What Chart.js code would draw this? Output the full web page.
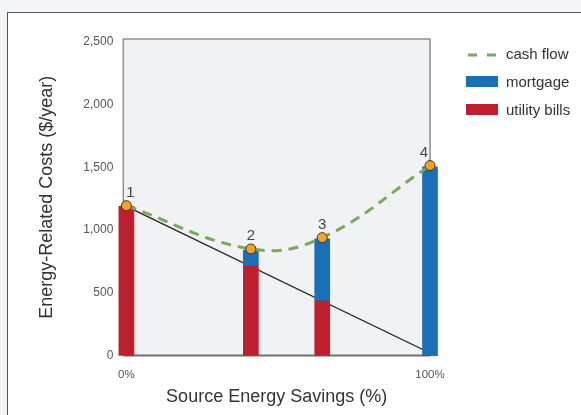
<!DOCTYPE html>
<html>
<head>
<meta charset="utf-8">
<script src="https://cdn.jsdelivr.net/npm/chart.js@4.4.1/dist/chart.umd.min.js"></script>
<style>
html, body { margin: 0; padding: 0; }
body { width: 581px; height: 415px; background: #f4f5f7; position: relative; overflow: hidden; }
#frame { position: absolute; left: 7px; top: 12px; width: 620px; height: 440px; background: #fff; border-left: 1px solid #555; border-top: 1px solid #555; }
#chart { position: absolute; left: 0; top: 0; }
</style>
</head>
<body>
<div id="frame"></div>
<canvas id="chart" width="581" height="415"></canvas>
<script>
// source energy savings (%) for each of the four cases
const savings = [0, 41, 64.5, 100];
const pointLabels = ['1', '2', '3', '4'];
const utilityBills = [1190, 715, 435, 0];
const mortgage = [0, 125, 495, 1505];
const cashFlow = [1195, 850, 940, 1515];
// straight utility bill trend line
const trendX = [0, 100];
const trendY = [1190, 20];
const xTicks = [0, 100];
const xTickLabels = ['0%', '100%'];
const yTicks = [0, 500, 1000, 1500, 2000, 2500];

const FONT = '"Liberation Sans", Arial, sans-serif';

function toPoints(xs, ys) {
    return xs.map(function(x, i) { return { x: x, y: ys[i] }; });
}

// grey plot box behind the bars
const plotBox = {
    id: 'plotBox',
    beforeDraw(chart) {
        const a = chart.chartArea;
        const ctx = chart.ctx;
        ctx.save();
        ctx.fillStyle = '#f1f2f4';
        ctx.fillRect(a.left, a.top, a.right - a.left, a.bottom - a.top);
        ctx.restore();
    },
    beforeDatasetsDraw(chart) {
        const a = chart.chartArea;
        const ctx = chart.ctx;
        ctx.save();
        ctx.strokeStyle = '#8e8e8e';
        ctx.lineWidth = 1.5;
        ctx.beginPath();
        ctx.moveTo(a.left, a.bottom);
        ctx.lineTo(a.left, a.top);
        ctx.lineTo(a.right, a.top);
        ctx.lineTo(a.right, a.bottom);
        ctx.stroke();
        ctx.strokeStyle = '#6e6e6e';
        ctx.lineWidth = 2;
        ctx.beginPath();
        ctx.moveTo(a.left, a.bottom);
        ctx.lineTo(a.right, a.bottom);
        ctx.stroke();
        ctx.restore();
    }
};

// numbers above the cash flow points
const numberLabels = {
    id: 'numberLabels',
    afterDatasetsDraw(chart) {
        const ctx = chart.ctx;
        const meta = chart.getDatasetMeta(0);
        const dx = [4, 0, 0, -6];
        ctx.save();
        ctx.font = '15px ' + FONT;
        ctx.fillStyle = '#444';
        ctx.textAlign = 'center';
        ctx.textBaseline = 'middle';
        meta.data.forEach(function(p, i) {
            ctx.fillText(pointLabels[i], p.x + dx[i], p.y - 13);
        });
        ctx.restore();
    }
};

// legend on the right side
const sideLegend = {
    id: 'sideLegend',
    afterDraw(chart) {
        const ctx = chart.ctx;
        const ds = chart.data.datasets;
        const items = [ds[0], ds[2], ds[1]];
        const x0 = 467, y0 = 55, step = 28;
        ctx.save();
        ctx.font = '15px ' + FONT;
        ctx.textBaseline = 'middle';
        items.forEach(function(d, i) {
            const y = y0 + i * step;
            if (d.type === 'line') {
                ctx.strokeStyle = d.borderColor;
                ctx.lineWidth = d.borderWidth;
                ctx.setLineDash([9, 10]);
                ctx.beginPath();
                ctx.moveTo(x0 + 1, y);
                ctx.lineTo(x0 + 30, y);
                ctx.stroke();
                ctx.setLineDash([]);
            } else {
                ctx.fillStyle = d.backgroundColor;
                ctx.fillRect(x0 - 1, y - 7, 32, 11);
            }
            ctx.fillStyle = '#333';
            ctx.fillText(d.label, 506, y);
        });
        ctx.restore();
    }
};

const data = {
    datasets: [
        {
            type: 'line',
            label: 'cash flow',
            data: toPoints(savings, cashFlow),
            borderColor: '#7aa95c',
            borderWidth: 3,
            borderDash: [10, 7],
            tension: 0.4,
            pointRadius: 5,
            pointBackgroundColor: '#f5a31e',
            pointBorderColor: '#333',
            pointBorderWidth: 1,
            stack: 'cash',
            order: 0,
            clip: false
        },
        {
            type: 'bar',
            label: 'utility bills',
            data: toPoints(savings, utilityBills),
            backgroundColor: '#bf1e2e',
            barThickness: 15,
            order: 1,
            clip: false
        },
        {
            type: 'bar',
            label: 'mortgage',
            data: toPoints(savings, mortgage),
            backgroundColor: '#1a6fb9',
            barThickness: 15,
            order: 1,
            clip: false
        },
        {
            type: 'line',
            label: 'trend',
            data: toPoints(trendX, trendY),
            borderColor: '#222',
            borderWidth: 1.3,
            pointRadius: 0,
            stack: 'trend',
            order: 2,
            clip: false
        }
    ]
};

const config = {
    data: data,
    plugins: [plotBox, numberLabels, sideLegend],
    options: {
        responsive: false,
        animation: false,
        layout: { padding: { left: 30, right: 151, top: 39, bottom: 4 } },
        plugins: {
            legend: { display: false },
            tooltip: { enabled: false }
        },
        scales: {
            x: {
                type: 'linear',
                min: -1,
                max: 100,
                offset: false,
                stacked: true,
                grid: { display: false, drawTicks: false },
                border: { display: false },
                afterBuildTicks: function(scale) {
                    scale.ticks = xTicks.map(function(v) { return { value: v }; });
                },
                ticks: {
                    autoSkip: false,
                    maxRotation: 0,
                    padding: 12,
                    color: '#555',
                    font: { family: FONT, size: 11.5, lineHeight: 1.2 },
                    callback: function(v) { return xTickLabels[xTicks.indexOf(v)]; }
                },
                title: {
                    display: true,
                    text: 'Source Energy Savings (%)',
                    color: '#333',
                    font: { family: FONT, size: 18, lineHeight: 1.2 },
                    padding: { top: -7.4, bottom: 3.5 }
                }
            },
            y: {
                type: 'linear',
                min: 0,
                max: 2525,
                stacked: true,
                grid: { display: false, drawTicks: false },
                border: { display: false },
                afterBuildTicks: function(scale) {
                    scale.ticks = yTicks.map(function(v) { return { value: v }; });
                },
                ticks: {
                    autoSkip: false,
                    padding: 10,
                    color: '#555',
                    font: { family: FONT, size: 12, lineHeight: 1.2 }
                },
                title: {
                    display: true,
                    text: 'Energy-Related Costs ($/year)',
                    color: '#333',
                    font: { family: FONT, size: 18, lineHeight: 1.2 },
                    padding: { top: 6, bottom: 15.7 }
                }
            }
        }
    }
};

const costChart = new Chart(document.getElementById('chart'), config);
</script>
</body>
</html>
